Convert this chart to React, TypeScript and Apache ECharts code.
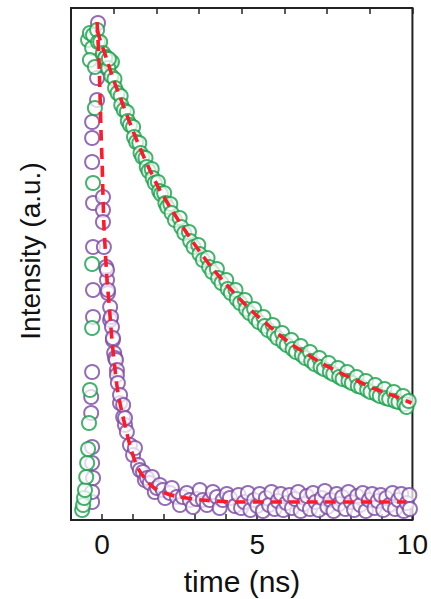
import React, { useEffect, useRef } from "react";
import * as echarts from "echarts";

// time axis ticks / labels
const xTicks = [-1, 0, 1, 2, 3, 4, 5, 6, 7, 8, 9, 10];
const xLabelled = [0, 5, 10];

// green (slow decay) measured points
const greenRise: number[][] = [
  [-0.64, 10], [-0.61, 15], [-0.58, 22], [-0.55, 30], [-0.51, 43], [-0.48, 57], [-0.45, 71],
  [-0.42, 97], [-0.39, 130], [-0.32, 192], [-0.32, 256], [-0.29, 337], [-0.23, 412],
];
const greenPeak: number[][] = [
  [-0.45, 480], [-0.39, 487], [-0.32, 472], [-0.39, 460], [-0.29, 485], [-0.23, 453],
  [-0.16, 490], [-0.13, 478], [-0.06, 478], [0.03, 467], [0.13, 463], [0.26, 457], [0.32, 458],
];
const greenDecay: number[][] = [
  [0.10, 462], [0.20, 452], [0.22, 461], [0.30, 444], [0.40, 441], [0.42, 432], [0.50, 427],
  [0.60, 424], [0.62, 415], [0.70, 410], [0.80, 408], [0.83, 399], [0.90, 395], [1.00, 393],
  [1.03, 383], [1.10, 378], [1.20, 377], [1.24, 367], [1.30, 363], [1.40, 362], [1.44, 353],
  [1.50, 349], [1.60, 351], [1.63, 342], [1.70, 337], [1.80, 338], [1.84, 329], [1.90, 326],
  [2.00, 327], [2.04, 317], [2.10, 313], [2.20, 316], [2.24, 307], [2.35, 300], [2.50, 302],
  [2.55, 293], [2.65, 287], [2.80, 288], [2.84, 279], [2.95, 273], [3.10, 275], [3.14, 266],
  [3.25, 260], [3.40, 262], [3.45, 253], [3.55, 248], [3.70, 251], [3.74, 242], [3.85, 237],
  [4.00, 240], [4.05, 231], [4.15, 227], [4.30, 230], [4.34, 221], [4.45, 217], [4.60, 220],
  [4.64, 211], [4.75, 207], [4.90, 211], [4.94, 202], [5.05, 198], [5.20, 203], [5.24, 194],
  [5.35, 190], [5.50, 195], [5.54, 186], [5.65, 182], [5.80, 187], [5.84, 178], [5.95, 175],
  [6.10, 180], [6.14, 171], [6.25, 168], [6.40, 174], [6.44, 165], [6.55, 162], [6.70, 168],
  [6.74, 159], [6.85, 156], [7.00, 162], [7.04, 153], [7.15, 151], [7.30, 157], [7.34, 148],
  [7.45, 146], [7.60, 152], [7.64, 143], [7.75, 141], [7.90, 148], [7.94, 139], [8.05, 137],
  [8.20, 143], [8.24, 134], [8.35, 133], [8.50, 139], [8.54, 130], [8.65, 128], [8.80, 135],
  [8.84, 126], [8.95, 124], [9.10, 131], [9.14, 122], [9.25, 121], [9.40, 128], [9.44, 119],
  [9.55, 118], [9.70, 124], [9.74, 116], [9.81, 113], [9.88, 119],
];

// purple (fast decay) measured points
const purpleRise: number[][] = [
  [-0.32, 18], [-0.32, 28], [-0.29, 42], [-0.32, 57], [-0.32, 73], [-0.35, 107], [-0.35, 123],
  [-0.32, 148], [-0.29, 203], [-0.29, 230], [-0.29, 273], [-0.29, 317], [-0.32, 358],
  [-0.32, 382], [-0.32, 398], [-0.16, 420], [-0.16, 442], [-0.13, 497],
];
const purpleDecay: number[][] = [
  [0.03, 323], [0.03, 310], [0.03, 298], [0.06, 273], [0.13, 253], [0.16, 240], [0.16, 250],
  [0.19, 227], [0.19, 230], [0.26, 213], [0.26, 200], [0.29, 203], [0.32, 193], [0.35, 180],
  [0.35, 182], [0.39, 167], [0.42, 162], [0.45, 160], [0.48, 150], [0.48, 145], [0.51, 137],
  [0.58, 117], [0.58, 125], [0.68, 103], [0.68, 115], [0.74, 95], [0.74, 102], [0.80, 88],
  [0.90, 75], [1.00, 65], [1.06, 72], [1.16, 55], [1.22, 50], [1.32, 48], [1.38, 40],
  [1.45, 42], [1.54, 37], [1.61, 43], [1.70, 28], [1.77, 32], [1.86, 35], [1.96, 30],
  [2.03, 22], [2.19, 27], [2.25, 32], [2.41, 23], [2.51, 15], [2.60, 23], [2.73, 27],
  [2.83, 20], [2.93, 13], [3.05, 21], [3.15, 30], [3.25, 20], [3.38, 15], [3.47, 20],
  [3.57, 28], [3.70, 23], [3.79, 12], [3.89, 20], [4.02, 26], [4.12, 22], [4.28, 14],
];
const purpleTail: number[][] = [
  [4.40, 25], [4.48, 12], [4.58, 18], [4.70, 27], [4.78, 10], [4.90, 20], [5.00, 14],
  [5.08, 26], [5.18, 9], [5.28, 22], [5.38, 15], [5.46, 28], [5.56, 11], [5.66, 19],
  [5.76, 26], [5.84, 10], [5.94, 17], [6.04, 25], [6.12, 12], [6.22, 21], [6.32, 28],
  [6.40, 9], [6.50, 16], [6.60, 24], [6.70, 11], [6.80, 27], [6.88, 18], [6.98, 10],
  [7.08, 22], [7.18, 29], [7.26, 13], [7.36, 20], [7.46, 9], [7.56, 26], [7.64, 16],
  [7.74, 23], [7.84, 11], [7.94, 28], [8.02, 18], [8.12, 10], [8.22, 24], [8.32, 15],
  [8.40, 27], [8.50, 9], [8.60, 20], [8.70, 26], [8.78, 12], [8.88, 19], [8.98, 25],
  [9.06, 10], [9.16, 22], [9.26, 15], [9.36, 27], [9.44, 11], [9.54, 20], [9.64, 26],
  [9.72, 9], [9.82, 17], [9.90, 25], [9.92, 11],
];

// fitted curves (red dashed)
const greenFit: number[][] = [
  [-0.16, 490], [-0.06, 480], [0.16, 460], [0.35, 442], [0.58, 423], [0.80, 405], [1.00, 389],
  [1.22, 372], [1.54, 350], [1.86, 330], [2.19, 313], [2.60, 293], [2.93, 278], [3.25, 264],
  [3.57, 251], [4.02, 235], [4.44, 221], [4.86, 208], [5.31, 196], [5.72, 185], [6.14, 175],
  [6.59, 166], [7.01, 158], [7.43, 151], [7.88, 144], [8.30, 138], [8.71, 132], [9.16, 127],
  [9.58, 122], [9.97, 117],
];
const purpleFit: number[][] = [
  [-0.16, 498], [-0.10, 460], [-0.06, 420], [-0.03, 385], [0.0, 360], [0.03, 325], [0.06, 295],
  [0.10, 272], [0.16, 240], [0.23, 215], [0.32, 180], [0.42, 150], [0.51, 128], [0.64, 108],
  [0.80, 87], [0.96, 68], [1.19, 50], [1.45, 39], [1.64, 33], [2.03, 27], [2.35, 24],
  [3.22, 20], [4.44, 18], [6.37, 18], [9.80, 18],
];

const GREEN = "#15a049";
const PURPLE = "#7a48a3";
const RED = "#ff1a2a";
const FONT = "'Liberation Sans', Arial, Helvetica, sans-serif";

export default function App() {
  const ref = useRef<HTMLDivElement>(null);
  useEffect(() => {
    if (!ref.current) return;
    const chart = echarts.init(ref.current, null, { renderer: "svg" });
    const scatterStyle = (c: string) => ({
      color: "rgba(255,255,255,0.9)",
      borderColor: c,
      borderWidth: 2,
    });
    chart.setOption({
      animation: false,
      backgroundColor: "#ffffff",
      grid: {
        left: 71,
        right: 18,
        top: 8,
        bottom: 79,
        show: true,
        borderColor: "#222",
        borderWidth: 2,
        backgroundColor: "transparent",
      },
      xAxis: [
        {
          type: "value",
          min: xTicks[0],
          max: xTicks[xTicks.length - 1],
          interval: 1,
          position: "bottom",
          axisLine: { show: false },
          axisTick: { show: true, inside: true, length: 6, lineStyle: { color: "#222", width: 1.5 } },
          axisLabel: {
            show: true,
            margin: 10,
            fontSize: 28,
            fontFamily: FONT,
            color: "#111",
            showMinLabel: true,
            showMaxLabel: true,
            formatter: (v: number) => (xLabelled.includes(v) ? String(v) : ""),
          },
          splitLine: { show: false },
        },
        {
          type: "value",
          min: 0,
          max: 8,
          interval: 1,
          position: "top",
          axisLine: { show: false },
          axisTick: { show: true, inside: true, length: 6, lineStyle: { color: "#222", width: 1.5 } },
          axisLabel: { show: false },
          splitLine: { show: false },
        },
      ],
      yAxis: {
        type: "value",
        min: 0,
        max: 512,
        axisLine: { show: false },
        axisTick: { show: false },
        axisLabel: { show: false },
        splitLine: { show: false },
      },
      graphic: [
        {
          type: "text",
          x: 30,
          y: 251,
          rotation: Math.PI / 2,
          style: {
            text: "Intensity (a.u.)",
            fontSize: 28,
            fontFamily: FONT,
            fill: "#111",
            align: "center",
            verticalAlign: "middle",
          },
        },
        {
          type: "text",
          x: 242,
          y: 581,
          style: {
            text: "time (ns)",
            fontSize: 30,
            fontFamily: FONT,
            fill: "#111",
            align: "center",
            verticalAlign: "middle",
          },
        },
      ],
      series: [
        {
          type: "scatter",
          xAxisIndex: 0,
          symbol: "circle",
          symbolSize: 14,
          data: [...purpleRise, ...purpleDecay, ...purpleTail],
          itemStyle: scatterStyle(PURPLE),
          z: 2,
        },
        {
          type: "scatter",
          xAxisIndex: 0,
          symbol: "circle",
          symbolSize: 14,
          data: [...greenRise, ...greenPeak, ...greenDecay],
          itemStyle: scatterStyle(GREEN),
          z: 3,
        },
        {
          type: "line",
          xAxisIndex: 0,
          data: purpleFit,
          showSymbol: false,
          smooth: 0.3,
          lineStyle: { color: RED, width: 3.6, type: [11, 7] },
          z: 4,
        },
        {
          type: "line",
          xAxisIndex: 0,
          data: greenFit,
          showSymbol: false,
          smooth: 0.3,
          lineStyle: { color: RED, width: 3.6, type: [11, 7] },
          z: 5,
        },
      ],
    });
    return () => chart.dispose();
  }, []);
  return (
    <div
      ref={ref}
      style={{ position: "fixed", left: 0, top: 0, width: 431, height: 599 }}
    />
  );
}
